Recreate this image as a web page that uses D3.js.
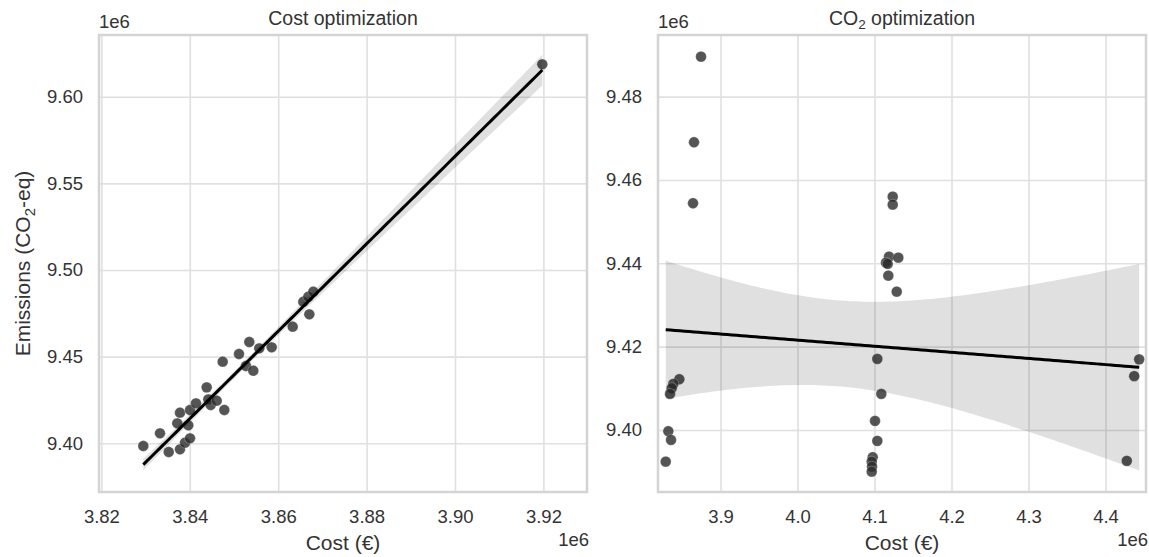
<!DOCTYPE html>
<html><head><meta charset="utf-8">
<script src="https://cdn.jsdelivr.net/npm/d3@7"></script>
<style>
body{margin:0;background:#fff;}
text{font-family:"Liberation Sans",Arial,sans-serif;fill:#333;}
</style></head>
<body><svg id="c" width="1149" height="557"></svg>
<script>
// ---- Data (values in units of 1e6) ----
const costOptCost = [3.82948,3.83326,3.83523,3.83778,3.83891,3.84005,3.83717,3.83966,3.83778,3.84005,
  3.84140,3.84382,3.84419,3.84473,3.84609,3.84781,3.84744,3.85113,3.85346,3.85271,
  3.85437,3.85572,3.85853,3.86328,3.86704,3.86568,3.86681,3.86794,3.91975];
const costOptEmis = [9.39844,9.40577,9.39498,9.39654,9.40035,9.40289,9.41154,9.41039,9.41766,9.41922,
  9.42308,9.43231,9.42539,9.42210,9.42458,9.41922,9.44709,9.45153,9.45845,9.44460,
  9.44189,9.45482,9.45540,9.46728,9.47444,9.48171,9.48459,9.48748,9.61870];
const co2OptCost = [3.87468,3.86558,3.86429,4.12364,4.12364,4.11883,4.13091,4.11494,4.11714,4.11792,
  4.12883,4.10364,4.10883,4.10065,4.10364,4.09766,4.09636,4.09675,4.09636,3.84649,
  3.83870,3.83662,3.83442,3.83221,3.83571,3.82883,4.44377,4.43727,4.42766];
const co2OptEmis = [9.48960,9.46905,9.45441,9.45600,9.45407,9.44159,9.44135,9.44015,9.43984,9.43703,
  9.43319,9.41704,9.40864,9.40216,9.39736,9.39345,9.39239,9.39119,9.38999,9.41217,
  9.41104,9.41001,9.40864,9.39969,9.39760,9.39239,9.41694,9.41291,9.39258];
const leftXTicks = [3.82,3.84,3.86,3.88,3.90,3.92];
const leftYTicks = [9.40,9.45,9.50,9.55,9.60];
const rightXTicks = [3.9,4.0,4.1,4.2,4.3,4.4];
const rightYTicks = [9.40,9.42,9.44,9.46,9.48];

const svg = d3.select("#c");
const TICK_FS = 18.5, LABEL_FS = 21, TITLE_FS = 19.5;

function regress(xs, ys, t){
  const n = xs.length, mx = d3.mean(xs), my = d3.mean(ys);
  let sxx=0, sxy=0;
  for(let i=0;i<n;i++){sxx+=(xs[i]-mx)**2; sxy+=(xs[i]-mx)*(ys[i]-my);}
  const b = sxy/sxx, a = my - b*mx;
  let sse=0; for(let i=0;i<n;i++){sse+=(ys[i]-a-b*xs[i])**2;}
  const s = Math.sqrt(sse/(n-2));
  const [lo,hi] = d3.extent(xs);
  return d3.range(0,101).map(k=>{
    const x = lo + (hi-lo)*k/100, yh = a+b*x;
    const h = t*s*Math.sqrt(1/n + (x-mx)**2/sxx);
    return {x, y:yh, y0:yh-h, y1:yh+h};
  });
}

function panel(opt){
  const {x0,x1,y0,y1,xd,yd,xs,ys,xt,yt,xf,yf,title,ci} = opt;
  const g = svg.append("g");
  const x = d3.scaleLinear().domain(xd).range([x0,x1]);
  const y = d3.scaleLinear().domain(yd).range([y1,y0]);
  const gx = g.append("g").attr("transform",`translate(0,${y1})`)
    .call(d3.axisBottom(x).tickValues(xt).tickFormat(xf).tickSize(-(y1-y0)).tickPadding(18));
  gx.select(".domain").remove();
  gx.selectAll(".tick line").attr("stroke","#e0e0e0").attr("stroke-width",1.6);
  gx.selectAll(".tick text").attr("font-size",TICK_FS).attr("fill","#333").style("font-family","Liberation Sans, Arial, sans-serif");
  const gy = g.append("g").attr("transform",`translate(${x0},0)`)
    .call(d3.axisLeft(y).tickValues(yt).tickFormat(yf).tickSize(-(x1-x0)).tickPadding(16));
  gy.select(".domain").remove();
  gy.selectAll(".tick line").attr("stroke","#e0e0e0").attr("stroke-width",1.6);
  gy.selectAll(".tick text").attr("font-size",TICK_FS).attr("fill","#333").style("font-family","Liberation Sans, Arial, sans-serif");
  const reg = regress(xs, ys, ci);
  g.append("g").selectAll("circle").data(xs.map((v,i)=>[v,ys[i]])).join("circle")
    .attr("cx",d=>x(d[0])).attr("cy",d=>y(d[1])).attr("r",5.4)
    .attr("fill","#2a2a2a").attr("fill-opacity",0.8)
    .attr("stroke","#ffffff").attr("stroke-opacity",0.45).attr("stroke-width",0.6);
  g.append("path").datum(reg)
    .attr("d", d3.area().x(d=>x(d.x)).y0(d=>y(d.y0)).y1(d=>y(d.y1)))
    .attr("fill","#000").attr("fill-opacity",0.12);
  g.append("path").datum(reg)
    .attr("d", d3.line().x(d=>x(d.x)).y(d=>y(d.y)))
    .attr("fill","none").attr("stroke","#000").attr("stroke-width",3);
  g.append("rect").attr("x",x0).attr("y",y0).attr("width",x1-x0).attr("height",y1-y0)
    .attr("fill","none").attr("stroke","#d4d4d4").attr("stroke-width",2.5);
  g.append("text").attr("x",x0).attr("y",y0-7).attr("font-size",TICK_FS).text("1e6");
  g.append("text").attr("x",x1+2).attr("y",546).attr("text-anchor","end").attr("font-size",TICK_FS).text("1e6");
  g.append("text").attr("x",(x0+x1)/2).attr("y",550).attr("text-anchor","middle").attr("font-size",LABEL_FS).text("Cost (€)");
  const t = g.append("text").attr("x",(x0+x1)/2).attr("y",25).attr("text-anchor","middle").attr("font-size",TITLE_FS);
  title(t);
  return g;
}

panel({x0:99,x1:587,y0:35,y1:492,xd:[3.81946,3.92986],yd:[9.3719,9.6356],
  xs:costOptCost, ys:costOptEmis, xt:leftXTicks, yt:leftYTicks, ci:1.4,
  xf:d3.format(".2f"), yf:d3.format(".2f"),
  title:t=>t.text("Cost optimization")});
panel({x0:658,x1:1146,y0:35,y1:492,xd:[3.8188,4.4526],yd:[9.3851,9.4948],
  xs:co2OptCost, ys:co2OptEmis, xt:rightXTicks, yt:rightYTicks, ci:2.05,
  xf:d3.format(".1f"), yf:d3.format(".2f"),
  title:t=>{t.append("tspan").text("CO");
    t.append("tspan").attr("font-size",13.5).attr("dy",4).text("2");
    t.append("tspan").attr("dy",-4).text(" optimization");}});

const yl = svg.append("text").attr("transform","translate(30,263.5) rotate(-90)")
  .attr("text-anchor","middle").attr("font-size",LABEL_FS);
yl.append("tspan").text("Emissions (CO");
yl.append("tspan").attr("font-size",15).attr("dy",5).text("2");
yl.append("tspan").attr("dy",-5).text("-eq)");
</script></body></html>
